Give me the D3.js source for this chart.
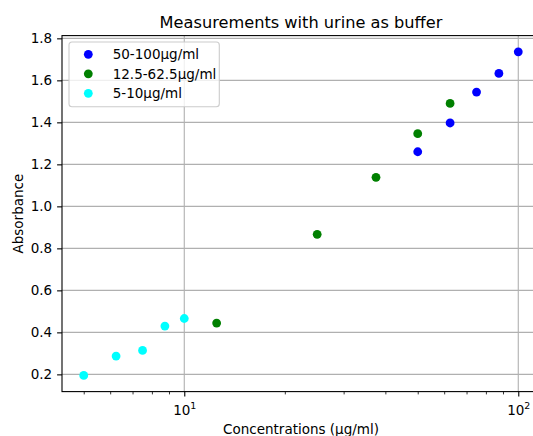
<!DOCTYPE html>
<html>
<head>
<meta charset="utf-8">
<script src="https://cdn.jsdelivr.net/npm/d3@7"></script>
<style>
  html, body { margin: 0; padding: 0; background: #ffffff; }
  svg { display: block; }
  text { font-family: "DejaVu Sans", sans-serif; fill: #000; }
</style>
</head>
<body>
<script>
// Concentrations (µg/ml) and absorbance readings per dilution range
const seriesNames = ["50-100µg/ml", "12.5-62.5µg/ml", "5-10µg/ml"];
const seriesColors = ["#0000ff", "#008000", "#00ffff"];

const highConc = [50, 62.5, 75, 87.5, 100];
const highAbs  = [1.260, 1.397, 1.544, 1.633, 1.736];

const midConc = [12.5, 25, 37.5, 50, 62.5];
const midAbs  = [0.444, 0.867, 1.138, 1.346, 1.490];

const lowConc = [5, 6.25, 7.5, 8.75, 10];
const lowAbs  = [0.195, 0.287, 0.314, 0.430, 0.466];

const yTicks = [0.2, 0.4, 0.6, 0.8, 1.0, 1.2, 1.4, 1.6, 1.8];
const xMajorTicks = [10, 100];
const xMinorTicks = [5, 6, 7, 8, 9, 20, 30, 40, 50, 60, 70, 80, 90];

const series = [
  { name: seriesNames[0], color: seriesColors[0], x: highConc, y: highAbs },
  { name: seriesNames[1], color: seriesColors[1], x: midConc,  y: midAbs  },
  { name: seriesNames[2], color: seriesColors[2], x: lowConc,  y: lowAbs  }
];

const W = 533, H = 436;
const plot = { left: 62, right: 540, top: 35.6, bottom: 391.6 };
const FS = 13.5, TITLE_FS = 16.2, R = 4.4;

// Autoscale with a 5% margin (log space on x)
const allX = series.flatMap(s => s.x), allY = series.flatMap(s => s.y);
const lx0 = Math.log10(d3.min(allX)), lx1 = Math.log10(d3.max(allX));
const mx = (lx1 - lx0) * 0.05;
const y0 = d3.min(allY), y1 = d3.max(allY);
const my = (y1 - y0) * 0.05;

const x = d3.scaleLog()
  .domain([Math.pow(10, lx0 - mx), Math.pow(10, lx1 + mx)])
  .range([plot.left, plot.right]);
const y = d3.scaleLinear()
  .domain([y0 - my, y1 + my])
  .range([plot.bottom, plot.top]);

const svg = d3.select("body").append("svg")
  .attr("width", W).attr("height", H);

const gridColor = "#b0b0b0";

// Grid lines
svg.append("g").selectAll("line").data(yTicks).join("line")
  .attr("x1", plot.left).attr("x2", plot.right)
  .attr("y1", d => y(d)).attr("y2", d => y(d))
  .attr("stroke", gridColor).attr("stroke-width", 1.1);
svg.append("g").selectAll("line").data(xMajorTicks).join("line")
  .attr("x1", d => x(d)).attr("x2", d => x(d))
  .attr("y1", plot.top).attr("y2", plot.bottom)
  .attr("stroke", gridColor).attr("stroke-width", 1.1);

// Points
series.forEach(s => {
  svg.append("g").selectAll("circle").data(s.x.map((v, i) => [v, s.y[i]])).join("circle")
    .attr("cx", d => x(d[0])).attr("cy", d => y(d[1]))
    .attr("r", R).attr("fill", s.color);
});

// Y axis
const yAxis = d3.axisLeft(y).tickValues(yTicks).tickFormat(d3.format(".1f"))
  .tickSize(4.9).tickPadding(4.9);
const gy = svg.append("g").attr("transform", `translate(${plot.left},0)`).call(yAxis);
gy.select(".domain").remove();
gy.selectAll(".tick line").attr("stroke", "#000").attr("stroke-width", 1.1);
gy.selectAll(".tick text").attr("font-size", FS).attr("font-family", "DejaVu Sans").attr("fill", "#000");

// X axis: major ticks with mathtext-style labels, plus minor ticks
const xAxis = d3.axisBottom(x).tickValues(xMajorTicks).tickFormat("")
  .tickSize(4.9).tickPadding(4.9);
const gx = svg.append("g").attr("transform", `translate(0,${plot.bottom})`).call(xAxis);
gx.select(".domain").remove();
gx.selectAll(".tick line").attr("stroke", "#000").attr("stroke-width", 1.1);
gx.selectAll(".tick text").remove();
gx.selectAll(".tick").append("text")
  .attr("y", 23.4).attr("text-anchor", "middle").attr("font-size", FS)
  .each(function(d) {
    const t = d3.select(this);
    t.append("tspan").text("10");
    t.append("tspan").attr("font-size", FS * 0.7).attr("dy", -5.5).text(Math.round(Math.log10(d)));
  });

const xMinor = d3.axisBottom(x).tickValues(xMinorTicks).tickFormat("").tickSize(2.8);
const gxm = svg.append("g").attr("transform", `translate(0,${plot.bottom})`).call(xMinor);
gxm.select(".domain").remove();
gxm.selectAll(".tick line").attr("stroke", "#000").attr("stroke-width", 0.8);

// Spines
svg.append("rect")
  .attr("x", plot.left).attr("y", plot.top)
  .attr("width", plot.right - plot.left).attr("height", plot.bottom - plot.top)
  .attr("fill", "none").attr("stroke", "#000").attr("stroke-width", 1.1);

// Title and axis labels
const cx = (plot.left + plot.right) / 2;
svg.append("text").attr("x", cx).attr("y", 28).attr("text-anchor", "middle")
  .attr("font-size", TITLE_FS).text("Measurements with urine as buffer");
svg.append("text").attr("x", cx).attr("y", 434).attr("text-anchor", "middle")
  .attr("font-size", FS).text("Concentrations (µg/ml)");
svg.append("text").attr("transform", `translate(23,${(plot.top + plot.bottom) / 2}) rotate(-90)`)
  .attr("text-anchor", "middle").attr("font-size", FS).text("Absorbance");

// Legend
const lg = svg.append("g").attr("transform", "translate(69,42)");
lg.append("rect").attr("width", 150.3).attr("height", 64.7).attr("rx", 3).attr("ry", 3)
  .attr("fill", "#fff").attr("fill-opacity", 0.8)
  .attr("stroke", "#cccccc").attr("stroke-width", 1.1);
series.forEach((s, i) => {
  const row = lg.append("g").attr("transform", `translate(0,${12.3 + i * 19.5})`);
  row.append("circle").attr("cx", 19.3).attr("cy", 0).attr("r", R).attr("fill", s.color);
  row.append("text").attr("x", 43.7).attr("y", 5).attr("font-size", FS).text(s.name);
});
</script>
</body>
</html>
